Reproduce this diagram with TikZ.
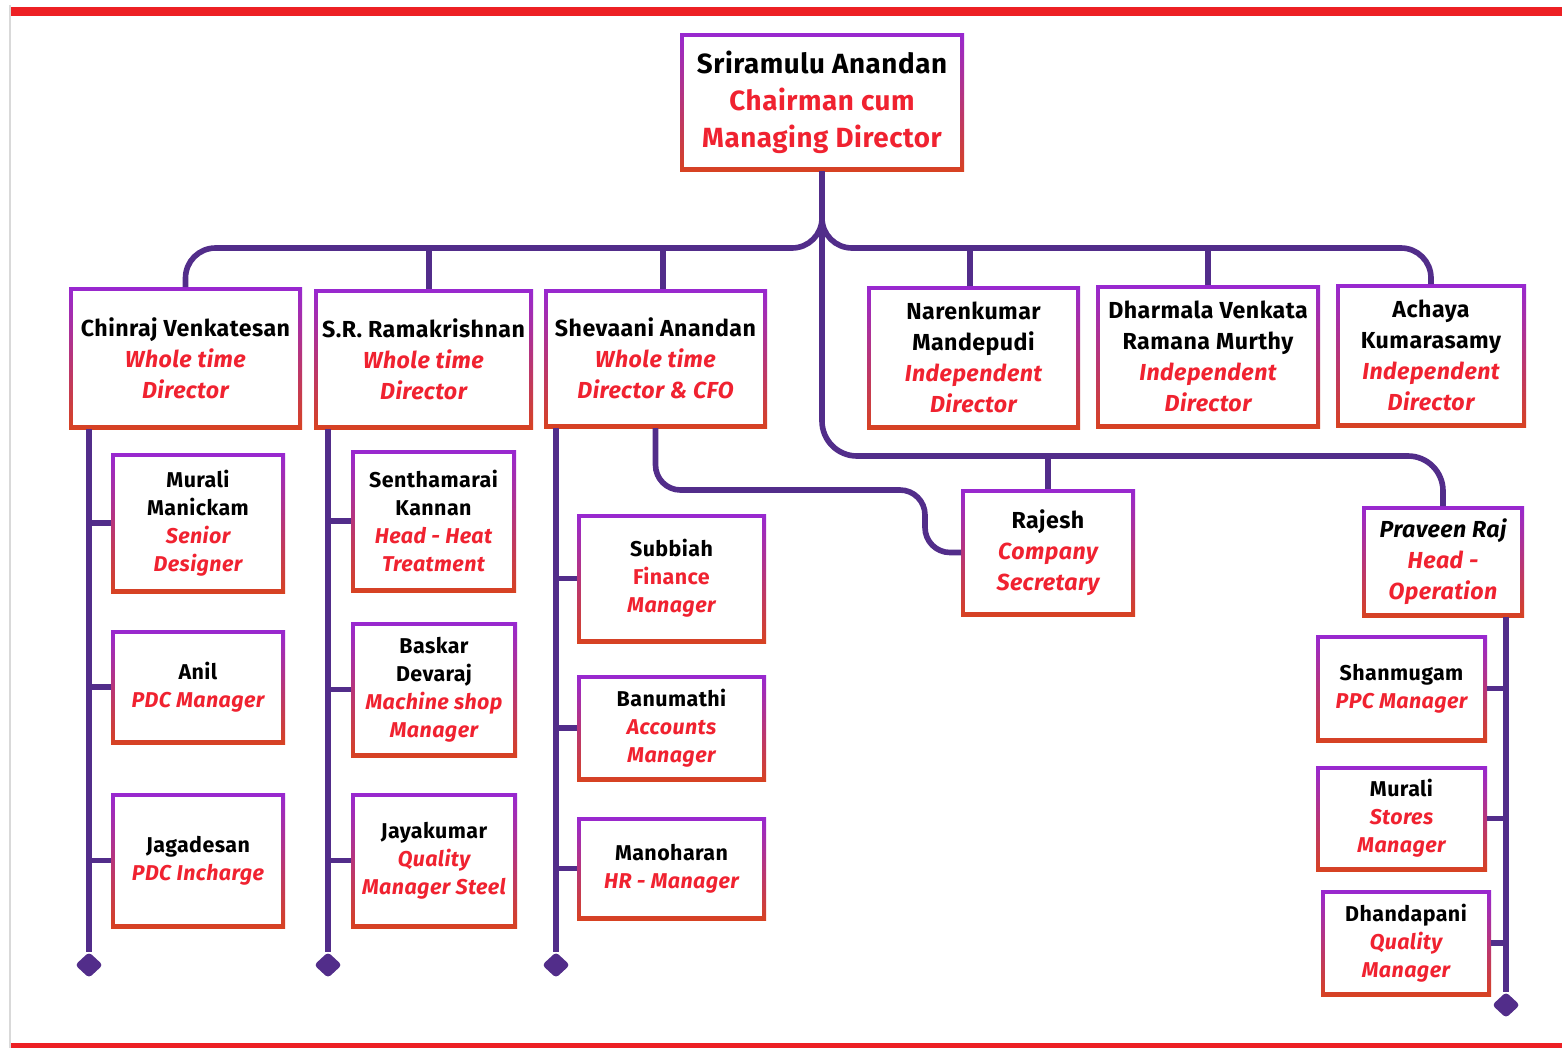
\documentclass[tikz,border=0pt]{standalone}
\usepackage{fontspec}
\setmainfont{Fira Sans}[LetterSpace=2]
\usetikzlibrary{shapes.geometric}
\definecolor{lien}{RGB}{82,45,138}
\definecolor{haut}{RGB}{152,40,208}
\definecolor{bas}{RGB}{215,66,34}
\definecolor{rouge}{RGB}{240,34,48}
\definecolor{cadre}{RGB}{237,32,36}
\newcommand\rl[1]{{\color{rouge}\itshape #1}}
\newcommand\ru[1]{{\color{rouge}#1}}
\begin{document}
\begin{tikzpicture}[x=0.02cm,y=-0.02cm,
  boite/.style 2 args={rectangle,inner sep=0pt,outer sep=0pt,
    minimum width=#1*0.02cm,minimum height=#2*0.02cm,
    top color=haut,bottom color=bas,align=center,
    font=\bfseries\fontsize{12.2}{15.9}\selectfont,
    path picture={\fill[white] ([shift={(2.3pt,2.3pt)}]path picture bounding box.south west)
      rectangle ([shift={(-2.3pt,-2.3pt)}]path picture bounding box.north east);}},
  grand/.style={font=\bfseries\fontsize{13.2}{17.6}\selectfont},
  link/.style={draw=lien,line width=3.2pt},
  bout/.style={diamond,fill=lien,inner sep=0pt,minimum width=0.56cm,
    minimum height=0.52cm,rounded corners=2pt}]
\useasboundingbox (0,0) rectangle (1562,1048);
% cadre
\fill[cadre] (10,7) rectangle (1562,16);
\fill[cadre] (10,1043) rectangle (1562,1048);
\draw[black!15,line width=1pt] (10,5) -- (10,1048);

% direction
\node[boite={284}{138},font=\bfseries\fontsize{15.8}{21}\selectfont] (top) at (822,102)
  {Sriramulu Anandan\\\ru{Chairman cum}\\\ru{Managing Director}};
\node[boite={233}{142},grand] (c1) at (185.5,358) {Chinraj Venkatesan\\\rl{Whole time}\\\rl{Director}};
\node[boite={219}{140},grand] (c2) at (423.5,359) {S.R. Ramakrishnan\\\rl{Whole time}\\\rl{Director}};
\node[boite={223}{139},grand] (c3) at (655.5,358.5) {Shevaani Anandan\\\rl{Whole time}\\\rl{Director \& CFO}};
\node[boite={213}{143},grand] (i1) at (973.5,357.5) {Narenkumar\\Mandepudi\\\rl{Independent}\\\rl{Director}};
\node[boite={224}{143},grand] (i2) at (1208,356.5) {Dharmala Venkata\\Ramana Murthy\\\rl{Independent}\\\rl{Director}};
\node[boite={190}{143},grand] (i3) at (1431,355.5) {Achaya\\Kumarasamy\\\rl{Independent}\\\rl{Director}};
\node[boite={174}{127},grand] (rj) at (1048,552.5) {Rajesh\\\rl{Company}\\\rl{Secretary}};
\node[boite={162}{111},grand] (pr) at (1443,561.5) {\itshape Praveen Raj\\\rl{Head -}\\\rl{Operation}};

% equipes
\node[boite={174}{140}] (m1) at (198,523) {Murali\\Manickam\\\rl{Senior}\\\rl{Designer}};
\node[boite={174}{114}] (m2) at (198,687) {Anil\\\rl{PDC Manager}};
\node[boite={174}{135}] (m3) at (198,860.5) {Jagadesan\\\rl{PDC Incharge}};
\node[boite={165}{142}] (s1) at (433.5,521) {Senthamarai\\Kannan\\\rl{Head - Heat}\\\rl{Treatment}};
\node[boite={166}{135}] (s2) at (434,689.5) {Baskar\\Devaraj\\\rl{Machine shop}\\\rl{Manager}};
\node[boite={166}{135}] (s3) at (434,860.5) {Jayakumar\\\rl{Quality}\\\rl{Manager Steel}};
\node[boite={189}{129}] (f1) at (671.5,578.5) {Subbiah\\\ru{Finance}\\\rl{Manager}};
\node[boite={189}{106}] (f2) at (671.5,728) {Banumathi\\\rl{Accounts}\\\rl{Manager}};
\node[boite={189}{103}] (f3) at (671.5,868.5) {Manoharan\\\rl{HR - Manager}};
\node[boite={171}{107}] (o1) at (1401.5,688.5) {Shanmugam\\\rl{PPC Manager}};
\node[boite={171}{105}] (o2) at (1401.5,818.5) {Murali\\\rl{Stores}\\\rl{Manager}};
\node[boite={170}{106}] (o3) at (1406,943) {Dhandapani\\\rl{Quality}\\\rl{Manager}};

% bouts des colonnes
\node[bout] (d1) at (89,965) {};
\node[bout] (d2) at (328,965) {};
\node[bout] (d3) at (556,965) {};
\node[bout] (d4) at (1506,1005) {};

% liens
\coordinate (bus) at (0,248);
\coordinate (bus2) at (0,456);
\coordinate (jog) at (925,490);
\draw[link,rounded corners=0.6cm] (top.south) |- (bus -| c1.north) -- (c1.north);
\draw[link,rounded corners=0.6cm] (top.south) |- (bus -| i3.north) -- (i3.north);
\foreach \b/\dx in {c2/5.5,c3/7.5,i1/-3.5,i2/0}
  \draw[link] ([xshift=\dx*0.02cm]\b.north) -- ([xshift=\dx*0.02cm]\b.north |- bus);
\draw[link,rounded corners=0.7cm] (top.south) |- (bus2 -| pr.north) -- (pr.north);
\draw[link] (rj.north) -- (rj.north |- bus2);
\draw[link,rounded corners=0.5cm] (c3.south) |- (jog) |- (rj.west);
\foreach \c/\d in {c1/d1,c2/d2,c3/d3,pr/d4}
  \draw[link] (\c.south -| \d) -- (\d);
\foreach \b/\d in {m1/d1,m2/d1,m3/d1,s1/d2,s2/d2,s3/d2,f1/d3,f2/d3,f3/d3}
  \draw[link] (\b.west) -- (\b.west -| \d);
\foreach \b in {o1,o2,o3}
  \draw[link] (\b.east) -- (\b.east -| d4);
\end{tikzpicture}
\end{document}
